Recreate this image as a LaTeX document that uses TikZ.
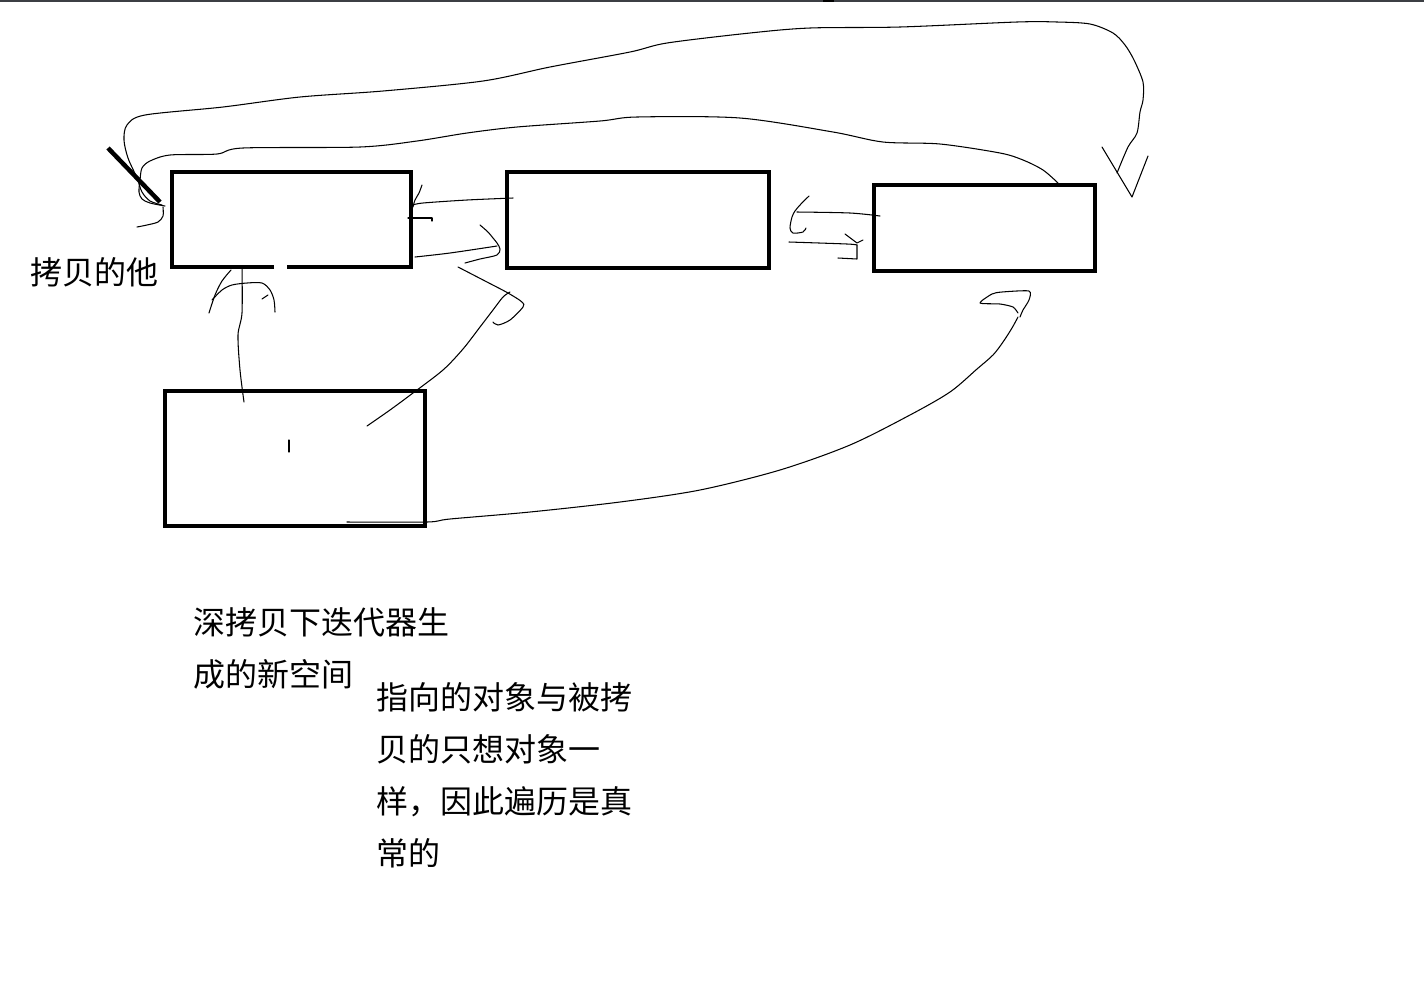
\documentclass[tikz,border=0pt]{standalone}
\usepackage{fontspec}
\newfontfamily\cjk{Noto Sans CJK SC}
\usetikzlibrary{calc}
\definecolor{barGray}{RGB}{60,63,68}
\tikzset{
  frame/.style = {inner sep=0pt, outer sep=0pt},
  box/.style   = {frame, draw, line width=0.09cm},
  edge/.style  = {line width=0.09cm, line join=miter},
  pen/.style   = {line width=0.6pt, line join=round, line cap=round},
  note/.style  = {inner sep=0pt, align=left,
                  font=\cjk\fontsize{18.2pt}{29.6pt}\selectfont}
}

\begin{document}
\begin{tikzpicture}[x=0.02cm, y=-0.02cm]
\useasboundingbox (0,0) rectangle (1424,995);

%% --- top bar ---
\fill[barGray] (0,0) rectangle (1424,2);
\fill[black] (823,0) rectangle (834,2);

%% --- boxes ---
\node[frame, minimum width=4.78cm, minimum height=1.90cm] (n1) at (291.5,219.5) {};
\node[box, minimum width=5.24cm, minimum height=1.92cm] (n2) at (638,220) {};
\node[box, minimum width=4.42cm, minimum height=1.72cm] (n3) at (984.5,228) {};
\node[box, minimum width=5.20cm, minimum height=2.70cm] (newsp) at (295,458.5) {};

% n1 has a gap in its bottom side
\draw[edge]
  ($(n1.south west)+(102,0)$)
  -| (n1.north west)
  -| (n1.south east)
  -- ($(n1.south west)+(115,0)$);

% the crossed-out link
\draw[edge] (108,148) -- (160,202);

%% --- labels ---
\node[note, anchor=west] (lblCopy) at (30,272) {拷贝的他};
\node[note, anchor=north west] (lblNew) at (193,607)
  {深拷贝下迭代器生\\成的新空间};
\node[note, anchor=north west] (lblNote) at (376,682)
  {指向的对象与被拷\\贝的只想对象一\\样，因此遍历是真\\常的};

%% --- ends of the strokes ---
\coordinate (outS) at (162,205);
\coordinate (outE) at (1117,173);
\coordinate (inS)  at ($(n3.north west)+(184,-2)$);
\coordinate (inE)  at (165,206);
\coordinate (r12S) at (513,198);
\coordinate (r12E) at (413,205);
\coordinate (f12S) at (415,257);
\coordinate (f12E) at (497,246);
\coordinate (upS)  at (367,426);
\coordinate (upE)  at (510,292);
\coordinate (lowS) at (347,522);
\coordinate (lowE) at (1018,317);
\coordinate (vS)   at (244,402);
\coordinate (vE)   at ($(n1.south west)+(70,0)$);
\coordinate (r23S) at (880,216);
\coordinate (r23E) at (797,212);
\coordinate (f23S) at (789,242);
\coordinate (f23E) at (857,245);

%% --- outer loop over everything ---
\draw[pen] plot[smooth, tension=0.5] coordinates {
  (outS) (150,201) (142,192) (137,178) (128,158) (124,140) (127,125)
  (145,115) (223,107) (300,97) (383,91) (483,81) (550,67) (630,52)
  (667,43) (750,33) (810,28) (900,27) (1017,22) (1057,22) (1090,24)
  (1113,33) (1125,45) (1134,60) (1143,82) (1143,100) (1140,112)
  (1137,133) (1128,147) (outE)};
\draw[pen] (1102,147) -- (1132,197) -- (1148,156);

%% --- inner loop n3 -> n1 ---
\draw[pen] plot[smooth, tension=0.5] coordinates {
  (inS) (1043,170) (1023,160) (1000,153) (940,144) (883,142) (833,132)
  (740,118) (637,117) (600,121) (517,127) (467,133) (417,141)
  (360,147) (243,148) (217,154) (170,155) (150,161) (142,168)
  (140,180) (139,192) (142,199) (150,203) (inE)};
\draw[pen] plot[smooth] coordinates {
  (163,207) (163,216) (158,222) (147,225) (137,227)};

%% --- n2 -> n1 ---
\draw[pen] plot[smooth] coordinates {(r12S) (467,200) (423,203) (r12E)};
\draw[pen] plot[smooth] coordinates {(422,185) (419,193) (415,200) (413,207)};
\draw[pen] (408,218) -- (432,218) -- (432,221);

%% --- n1 -> n2 ---
\draw[pen] plot[smooth] coordinates {(f12S) (450,253) (f12E)};
\draw[pen] plot[smooth] coordinates {
  (480,225) (488,232) (493,238) (497,243) (500,249) (497,255) (480,259) (465,263)};

%% --- newsp -> n2 ---
\draw[pen] plot[smooth] coordinates {
  (upS) (390,410) (413,393) (443,370) (463,349) (480,327) (493,310)
  (503,297) (upE)};
\draw[pen] plot[smooth, tension=0.5] coordinates {
  (458,267) (487,282) (508,293) (522,302) (523,307) (510,320)
  (498,325) (493,322)};

%% --- newsp -> n3 ---
\draw[pen] plot[smooth, tension=0.5] coordinates {
  (lowS) (427,522) (450,519) (530,512) (620,502) (700,490) (780,470)
  (850,445) (910,415) (950,392) (977,369) (993,355) (1003,342)
  (1012,328) (lowE)};
\draw[pen] plot[smooth, tension=0.4] coordinates {
  (1020,317) (1023,310) (1029,300) (1029,291) (1002,292) (992,294)
  (980,303) (1000,304) (1013,307) (1018,313)};

%% --- newsp -> n1 ---
\draw[pen] plot[smooth] coordinates {(vS) (240,370) (238,335) (242,313) (vE)};
\draw[pen] plot[smooth] coordinates {(209,313) (215,295) (222,281) (231,270)};
\draw[pen] plot[smooth] coordinates {
  (212,300) (222,290) (232,285) (247,283) (262,283) (270,290)
  (274,300) (275,312)};
\draw[pen] (262,299) -- (268,295);
\draw[pen] (289,440) -- (289,452);

%% --- n3 -> n2 ---
\draw[pen] plot[smooth] coordinates {(r23S) (850,213) (r23E)};
\draw[pen] plot[smooth, tension=0.5] coordinates {
  (809,196) (800,205) (795,211) (792,217) (790,228) (793,233)
  (803,232) (806,228)};

%% --- n2 -> n3 ---
\draw[pen] plot[smooth] coordinates {(f23S) (847,244) (f23E)};
\draw[pen] (845,234) -- (857,243) -- (863,240);
\draw[pen] (f23E) -- (857,259) -- (838,258);

\end{tikzpicture}
\end{document}
